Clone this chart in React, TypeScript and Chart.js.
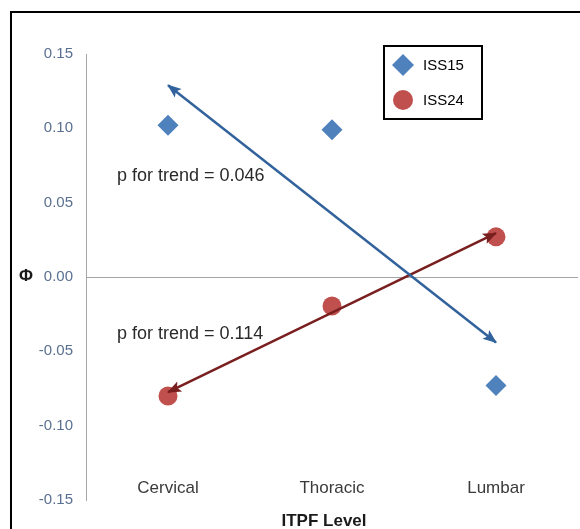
import React, { useEffect, useRef } from 'react';
import { Chart, registerables } from 'chart.js';

Chart.register(...registerables);

// ---- data ----
const categories = ['Cervical', 'Thoracic', 'Lumbar'];
const iss15Values = [0.102, 0.099, -0.073];
const iss24Values = [-0.08, -0.0195, 0.027];
const trend15Ends = [
  { x: 'Cervical', y: 0.129 },
  { x: 'Lumbar', y: -0.044 },
];
const trend24Ends = [
  { x: 'Cervical', y: -0.0775 },
  { x: 'Lumbar', y: 0.0295 },
];
const yMin = -0.15;
const yMax = 0.15;
const yStep = 0.05;
const trendTexts = ['p for trend = 0.046', 'p for trend = 0.114'];
const trendTextValues = [0.068, -0.0385];
const xTitle = 'ITPF Level';
const yTitle = 'Φ';

const FONT = "'Liberation Sans', Arial, Helvetica, sans-serif";
const BLUE = '#4F81BD';
const RED = '#C0504D';
const BLUE_ARROW = '#31629b';
const RED_ARROW = '#7a1f1f';

function drawMarker(ctx: CanvasRenderingContext2D, style: string, x: number, y: number, r: number, color: string) {
  ctx.save();
  ctx.fillStyle = color;
  ctx.beginPath();
  if (style === 'rectRot') {
    ctx.moveTo(x - r, y);
    ctx.lineTo(x, y - r);
    ctx.lineTo(x + r, y);
    ctx.lineTo(x, y + r);
    ctx.closePath();
  } else {
    ctx.arc(x, y, r, 0, Math.PI * 2);
  }
  ctx.fill();
  ctx.restore();
}

function drawHead(ctx: CanvasRenderingContext2D, fromX: number, fromY: number, tipX: number, tipY: number, color: string) {
  const ang = Math.atan2(tipY - fromY, tipX - fromX);
  const len = 13;
  const half = 5.5;
  const notch = 3;
  ctx.save();
  ctx.translate(tipX, tipY);
  ctx.rotate(ang);
  ctx.beginPath();
  ctx.moveTo(1, 0);
  ctx.lineTo(-len, -half);
  ctx.lineTo(-len + notch, 0);
  ctx.lineTo(-len, half);
  ctx.closePath();
  ctx.fillStyle = color;
  ctx.fill();
  ctx.restore();
}

const decorPlugin = {
  id: 'decor',
  beforeDraw(chart: any) {
    const ctx = chart.ctx as CanvasRenderingContext2D;
    ctx.save();
    ctx.fillStyle = '#ffffff';
    ctx.fillRect(0, 0, chart.width, chart.height);
    ctx.strokeStyle = '#000000';
    ctx.lineWidth = 2;
    ctx.strokeRect(11, 12, chart.width + 20, chart.height + 20);
    ctx.restore();
  },
  afterDatasetsDraw(chart: any) {
    const ctx = chart.ctx as CanvasRenderingContext2D;
    chart.data.datasets.forEach((ds: any, i: number) => {
      if (!ds.isArrow) return;
      const meta = chart.getDatasetMeta(i);
      const a = meta.data[0];
      const b = meta.data[meta.data.length - 1];
      drawHead(ctx, b.x, b.y, a.x, a.y, ds.borderColor);
      drawHead(ctx, a.x, a.y, b.x, b.y, ds.borderColor);
    });
  },
  afterDraw(chart: any) {
    const ctx = chart.ctx as CanvasRenderingContext2D;
    const xs = chart.scales.x;
    const ys = chart.scales.y;
    ctx.save();
    // category labels
    ctx.font = `17px ${FONT}`;
    ctx.fillStyle = '#3a3a3a';
    ctx.textAlign = 'center';
    ctx.textBaseline = 'middle';
    categories.forEach((c, i) => {
      ctx.fillText(c, xs.getPixelForValue(i), 488);
    });
    // axis titles
    ctx.font = `bold 17px ${FONT}`;
    ctx.fillStyle = '#1a1a1a';
    ctx.fillText(xTitle, 324, 521);
    ctx.font = `bold 17px ${FONT}`;
    ctx.fillText(yTitle, 26, 276);
    // trend annotations
    ctx.font = `18px ${FONT}`;
    ctx.fillStyle = '#2a2a2a';
    ctx.textAlign = 'left';
    trendTexts.forEach((t, i) => {
      ctx.fillText(t, xs.getPixelForValue(0) - 51, ys.getPixelForValue(trendTextValues[i]));
    });
    // legend
    ctx.strokeStyle = '#000000';
    ctx.lineWidth = 2;
    ctx.strokeRect(384, 46, 98, 73);
    ctx.font = `15px ${FONT}`;
    ctx.fillStyle = '#000000';
    const items = chart.data.datasets.filter((d: any) => !d.isArrow);
    items.forEach((d: any, i: number) => {
      const y = 65 + i * 35;
      drawMarker(ctx, d.pointStyle, 403, y, d.pointStyle === 'rectRot' ? 11 : 10, d.backgroundColor);
      ctx.fillText(d.label, 423, y + 1);
    });
    ctx.restore();
  },
};

export default function App() {
  const ref = useRef<HTMLCanvasElement | null>(null);
  useEffect(() => {
    if (!ref.current) return;
    const chart = new Chart(ref.current, {
      type: 'line',
      data: {
        labels: categories,
        datasets: [
          {
            label: 'ISS15',
            data: iss15Values,
            showLine: false,
            pointStyle: 'rectRot',
            pointRadius: 10.5,
            pointHoverRadius: 10.5,
            backgroundColor: BLUE,
            borderColor: BLUE,
            borderWidth: 0,
            order: 1,
          } as any,
          {
            label: 'ISS24',
            data: iss24Values,
            showLine: false,
            pointStyle: 'circle',
            pointRadius: 9.5,
            pointHoverRadius: 9.5,
            backgroundColor: RED,
            borderColor: RED,
            borderWidth: 0,
            order: 1,
          } as any,
          {
            label: 'trend15',
            isArrow: true,
            data: trend15Ends,
            borderColor: BLUE_ARROW,
            backgroundColor: BLUE_ARROW,
            borderWidth: 2.5,
            pointRadius: 0,
            tension: 0,
            order: 0,
          } as any,
          {
            label: 'trend24',
            isArrow: true,
            data: trend24Ends,
            borderColor: RED_ARROW,
            backgroundColor: RED_ARROW,
            borderWidth: 2.5,
            pointRadius: 0,
            tension: 0,
            order: 0,
          } as any,
        ],
      },
      options: {
        animation: false,
        responsive: false,
        maintainAspectRatio: false,
        events: [],
        layout: { autoPadding: false, padding: { left: 0, top: 54, right: 2, bottom: 29 } },
        plugins: {
          legend: { display: false },
          tooltip: { enabled: false },
        },
        scales: {
          x: {
            type: 'category',
            labels: categories,
            offset: true,
            display: false,
          },
          y: {
            min: yMin,
            max: yMax,
            afterFit: (scale: any) => {
              scale.width = 86;
            },
            ticks: {
              stepSize: yStep,
              padding: 13,
              color: '#5a7090',
              font: { family: FONT, size: 15 },
              callback: (v: any) => (Math.abs(Number(v)) < 1e-9 ? '0.00' : Number(v).toFixed(2)),
            },
            grid: {
              drawTicks: false,
              color: (c: any) => (c.tick && Math.abs(c.tick.value) < 1e-9 ? '#a6a6a6' : 'rgba(0,0,0,0)'),
              lineWidth: 1,
            },
            border: { display: true, color: '#a6a6a6', width: 1 },
          },
        },
      } as any,
      plugins: [decorPlugin],
    });
    return () => chart.destroy();
  }, []);
  return (
    <div style={{ position: 'absolute', left: 0, top: 0 }}>
      <canvas ref={ref} width={580} height={529} style={{ display: 'block' }} />
    </div>
  );
}
